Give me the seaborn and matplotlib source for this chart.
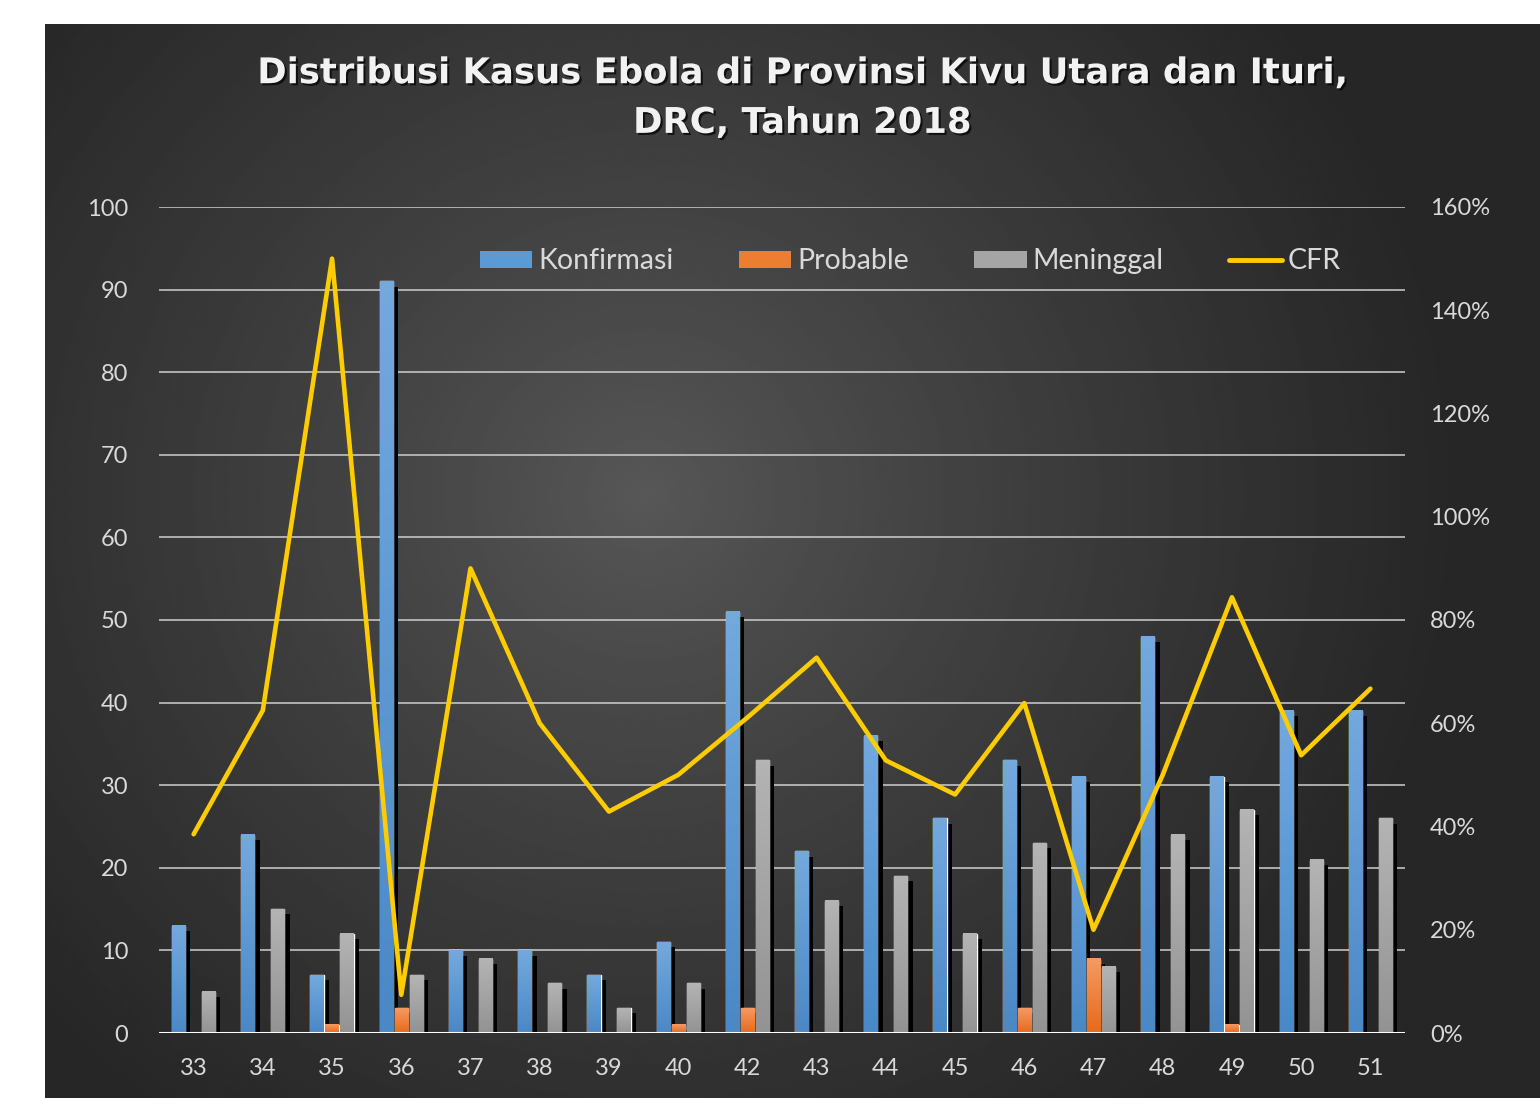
import numpy as np
import pandas as pd
import matplotlib
matplotlib.use("Agg")
import matplotlib.pyplot as plt
import matplotlib.patheffects as pe
from matplotlib.colors import LinearSegmentedColormap
from matplotlib.lines import Line2D
from matplotlib.patches import Patch
import seaborn as sns

# data (epi week)
weeks = ['33', '34', '35', '36', '37', '38', '39', '40', '42',
         '43', '44', '45', '46', '47', '48', '49', '50', '51']
konfirmasi = [13, 24, 7, 91, 10, 10, 7, 11, 51, 22, 36, 26, 33, 31, 48, 31, 39, 39]
probable = [0, 0, 1, 3, 0, 0, 0, 1, 3, 0, 0, 0, 3, 9, 0, 1, 0, 0]
meninggal = [5, 15, 12, 7, 9, 6, 3, 6, 33, 16, 19, 12, 23, 8, 24, 27, 21, 26]
cfr = [38.5, 62.5, 150, 7.4, 90, 60, 42.9, 50, 61.1, 72.7, 52.8, 46.2, 63.9, 20, 50, 84.4, 53.8, 66.7]

series = ['Konfirmasi', 'Probable', 'Meninggal']
colors = ['#5b9bd5', '#ed7d31', '#a5a5a5']
grads = [('#4a88c6', '#74a9de'), ('#e66a1c', '#f59a64'), ('#939393', '#b4b4b4')]
txt = '#d9d9d9'

df = pd.DataFrame({
    'week': weeks * 3,
    'value': konfirmasi + probable + meninggal,
    'series': [s for s in series for _ in weeks],
})

sns.set_theme(style='white')
plt.rcParams['font.family'] = ['Lato', 'DejaVu Sans']

fig = plt.figure(figsize=(15.4, 10.98), dpi=100, facecolor='white')

# dark radial background
bg = fig.add_axes([45 / 1540, 0, 1495 / 1540, 1074 / 1098])
yy, xx = np.mgrid[0:1074:3, 0:1495:3]
d = np.hypot(xx - 600, (yy - 470) * 1.05)
shade = 88 - 50 * np.clip(d / 820, 0, 1) ** 0.85
bg.imshow(shade, cmap='gray', vmin=0, vmax=255, aspect='auto', interpolation='bilinear')
bg.axis('off')

ax = fig.add_axes([159 / 1540, 65 / 1098, 1246 / 1540, 826 / 1098])
ax.patch.set_alpha(0)

sns.barplot(data=df, x='week', y='value', hue='series', order=weeks, hue_order=series,
            palette=colors, saturation=1, width=0.65, gap=0.12, legend=False, ax=ax)

# gradient fill + drop shadow on each bar
for cont, (c0, c1) in zip(ax.containers, grads):
    cmap = LinearSegmentedColormap.from_list('g', [c0, c1])
    for bar in cont:
        h = bar.get_height()
        if h <= 0:
            continue
        bar.set_path_effects([pe.SimplePatchShadow(offset=(3.8, -3.8), shadow_rgbFace='black', alpha=1),
                              pe.Normal()])
        x0, w = bar.get_x(), bar.get_width()
        ax.imshow(np.linspace(0, 1, 64).reshape(-1, 1), extent=[x0, x0 + w, 0, h], origin='lower',
                  cmap=cmap, aspect='auto', zorder=bar.get_zorder() + 0.5)

ax.set_xlim(-0.5, len(weeks) - 0.5)
ax.set_ylim(0, 100)
ax.set_yticks(range(0, 101, 10))
ax.yaxis.grid(True, color='#cfcfcf', lw=1.1)
ax.set_axisbelow(True)
ax.axhline(0, color='white', lw=2.2, zorder=10)
sns.despine(ax=ax, left=True, bottom=True)
ax.set_xlabel('')
ax.set_ylabel('')
ax.tick_params(axis='y', length=0, colors=txt, labelsize=17, pad=22)
ax.tick_params(axis='x', length=0, colors=txt, labelsize=17, pad=18)

ax2 = ax.twinx()
sns.lineplot(x=np.arange(len(weeks)), y=cfr, ax=ax2, color='#ffcc00', lw=3.3, legend=False)
ax2.set_ylim(0, 160)
ax2.set_yticks(range(0, 161, 20))
ax2.set_yticklabels([f'{v}%' for v in range(0, 161, 20)])
ax2.grid(False)
sns.despine(ax=ax2, left=True, bottom=True, right=True)
ax2.set_xlabel('')
ax2.set_ylabel('')
ax2.tick_params(axis='y', length=0, colors=txt, labelsize=17, pad=18)

handles = [Patch(facecolor=c, edgecolor='none') for c in colors] + \
          [Line2D([], [], color='#ffcc00', lw=3.5)]
fig.legend(handles, series + ['CFR'], loc='center', bbox_to_anchor=(0.591, 0.762), ncol=4,
           frameon=False, fontsize=20.5, labelcolor=txt, handlelength=1.85, handleheight=0.56,
           columnspacing=2.3, handletextpad=0.2)

fig.text(0.521, 0.9107, 'Distribusi Kasus Ebola di Provinsi Kivu Utara dan Ituri,\nDRC, Tahun 2018',
         ha='center', va='center', fontsize=25.5, fontweight='bold', color='#f2f2f2',
         family=['DejaVu Sans'], linespacing=1.58,
         path_effects=[pe.withSimplePatchShadow(offset=(1.5, -1.5), shadow_rgbFace='black', alpha=0.7)])

fig.savefig('out.png', dpi=100, facecolor='white')
